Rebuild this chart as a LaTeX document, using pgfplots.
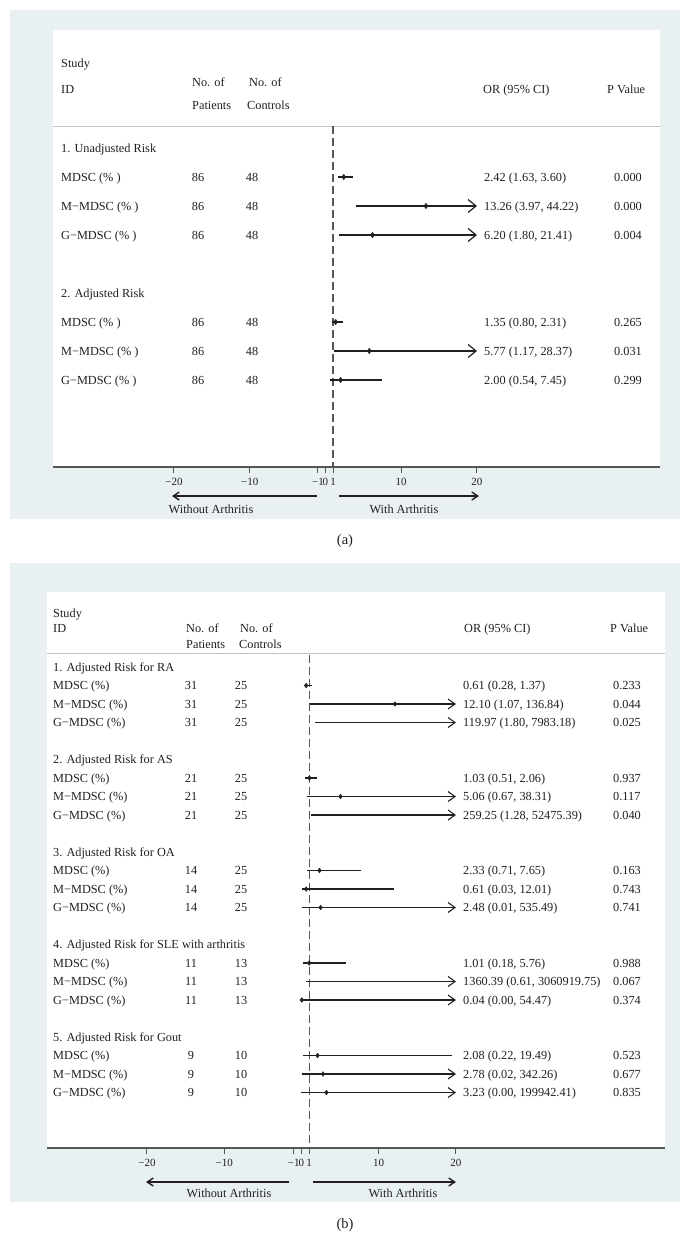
\documentclass[border=0pt]{standalone}
\usepackage{fontspec}
\setmainfont{Liberation Serif}
\usepackage{pgfplots}
\pgfplotsset{compat=1.18}
\usetikzlibrary{arrows.meta}
\definecolor{panelbg}{RGB}{232,240,242}
\definecolor{txt}{RGB}{35,31,32}
\definecolor{axgray}{RGB}{85,85,85}
\definecolor{sepgray}{RGB}{195,195,195}
\newcommand{\fs}{\fontsize{12.3bp}{14bp}\selectfont}
\newcommand{\ticksfont}{\fontsize{11bp}{12bp}\selectfont}
% row of the table: y, label, patients, controls, OR (CI), p  (panel a)
\newcommand{\rowA}[6]{%
  \node[anchor=base west] at (61,#1+4) {#2};
  \node[anchor=base] at (198,#1+4) {#3};
  \node[anchor=base] at (252,#1+4) {#4};
  \node[anchor=base west] at (484,#1+4) {#5};
  \node[anchor=base west] at (614,#1+4) {#6};}
\newcommand{\rowB}[6]{%
  \node[anchor=base west] at (53,#1+4) {#2};
  \node[anchor=base] at (191,#1+4) {#3};
  \node[anchor=base] at (241,#1+4) {#4};
  \node[anchor=base west] at (463,#1+4) {#5};
  \node[anchor=base west] at (613,#1+4) {#6};}
\pgfplotsset{
  forest/.style={
    scale only axis, clip=false,
    axis x line*=bottom, axis y line=none,
    axis line style={axgray, line width=1.5bp},
    xtick={-20,-10,-1,0,1,10,20},
    xticklabels={−20,−10,−1,0,1,10,20},
    tick align=outside, major tick length=6bp,
    tick style={axgray, line width=1bp},
    x tick label style={font=\ticksfont, text=txt, inner sep=0pt, yshift=-5bp},
  },
  ci/.style={txt, line width=1.2bp, mark=none},
  nullline/.style={axgray, line width=1.3bp, dash pattern=on 8bp off 4bp},
  pt/.style={only marks, mark=diamond*, mark size=2.7bp, txt},
}
\begin{document}
\begin{tikzpicture}
\path[use as bounding box] (0bp,0bp) rectangle (690bp,-1257bp);
\fill[white] (0bp,0bp) rectangle (690bp,-1257bp);
\begin{scope}[x=1bp,y=-1bp]
\fill[panelbg] (10,10) rectangle (680,519);
\fill[white] (53,30) rectangle (660,467);
\fill[panelbg] (10,563) rectangle (680,1202);
\fill[white] (47,592) rectangle (665,1148);
\draw[sepgray, line width=1bp] (53,126) -- (660,126);
\draw[sepgray, line width=1bp] (47,653) -- (665,653);
\end{scope}

% ---------------- panel (a)
\begin{axis}[forest,
  at={(53bp,-467bp)}, anchor=south west,
  width=607bp, height=437bp,
  xmin=-35.97, xmax=44.16, ymin=-11, ymax=4.069]
\addplot[nullline] coordinates {(1,0.759) (1,-11)};
\addplot[ci] coordinates {(1.63,-1) (3.60,-1)};
\addplot[ci,-{Straight Barb[length=8bp,width=13bp]}] coordinates {(3.97,-2) (20,-2)};
\addplot[ci,-{Straight Barb[length=8bp,width=13bp]}] coordinates {(1.80,-3) (20,-3)};
\addplot[ci] coordinates {(0.80,-6) (2.31,-6)};
\addplot[ci,-{Straight Barb[length=8bp,width=13bp]}] coordinates {(1.17,-7) (20,-7)};
\addplot[ci] coordinates {(0.54,-8) (7.45,-8)};
\addplot[pt] coordinates {(2.42,-1) (13.26,-2) (6.20,-3) (1.35,-6) (5.77,-7) (2.00,-8)};
\end{axis}

% ---------------- panel (b)
\begin{axis}[forest,
  at={(47bp,-1148bp)}, anchor=south west,
  width=618bp, height=556bp,
  xmin=-32.94, xmax=47.06, ymin=-26, ymax=4.054]
\addplot[nullline] coordinates {(1,0.649) (1,-26)};
\pgfplotsset{ci/.append style={line width=1.1bp}}
% RA
\addplot[ci] coordinates {(0.28,-1) (1.37,-1)};
\addplot[ci,-{Straight Barb[length=7bp,width=10bp]}] coordinates {(1.07,-2) (20,-2)};
\addplot[ci,-{Straight Barb[length=7bp,width=10bp]}] coordinates {(1.80,-3) (20,-3)};
% AS
\addplot[ci] coordinates {(0.51,-6) (2.06,-6)};
\addplot[ci,-{Straight Barb[length=7bp,width=10bp]}] coordinates {(0.67,-7) (20,-7)};
\addplot[ci,-{Straight Barb[length=7bp,width=10bp]}] coordinates {(1.28,-8) (20,-8)};
% OA
\addplot[ci] coordinates {(0.71,-11) (7.65,-11)};
\addplot[ci] coordinates {(0.03,-12) (12.01,-12)};
\addplot[ci,-{Straight Barb[length=7bp,width=10bp]}] coordinates {(0.01,-13) (20,-13)};
% SLE
\addplot[ci] coordinates {(0.18,-16) (5.76,-16)};
\addplot[ci,-{Straight Barb[length=7bp,width=10bp]}] coordinates {(0.61,-17) (20,-17)};
\addplot[ci,-{Straight Barb[length=7bp,width=10bp]}] coordinates {(0.00,-18) (20,-18)};
% Gout
\addplot[ci] coordinates {(0.22,-21) (19.49,-21)};
\addplot[ci,-{Straight Barb[length=7bp,width=10bp]}] coordinates {(0.02,-22) (20,-22)};
\addplot[ci,-{Straight Barb[length=7bp,width=10bp]}] coordinates {(0.00,-23) (20,-23)};
\addplot[pt, mark size=2.4bp] coordinates {(0.61,-1) (12.10,-2) (1.03,-6) (5.06,-7)
  (2.33,-11) (0.61,-12) (2.48,-13) (1.01,-16) (0.04,-18) (2.08,-21) (2.78,-22) (3.23,-23)};
\end{axis}

% ---------------- texts
\begin{scope}[x=1bp,y=-1bp, every node/.style={inner sep=0pt, font=\fs, text=txt}]
% header (a)
\node[anchor=base west] at (61,67) {Study};
\node[anchor=base west] at (61,93) {ID};
\node[anchor=base west] at (192,86) {No. of};
\node[anchor=base west] at (192,109) {Patients};
\node[anchor=base west] at (249,86) {No. of};
\node[anchor=base west] at (247,109) {Controls};
\node[anchor=base west] at (483,93) {OR (95\% CI)};
\node[anchor=base west] at (607,93) {P Value};
\node[anchor=base west] at (61,152) {1. Unadjusted Risk};
\rowA{177}{MDSC (\% )}{86}{48}{2.42 (1.63, 3.60)}{0.000}
\rowA{206}{M−MDSC (\% )}{86}{48}{13.26 (3.97, 44.22)}{0.000}
\rowA{235}{G−MDSC (\% )}{86}{48}{6.20 (1.80, 21.41)}{0.004}
\node[anchor=base west] at (61,297) {2. Adjusted Risk};
\rowA{322}{MDSC (\% )}{86}{48}{1.35 (0.80, 2.31)}{0.265}
\rowA{351}{M−MDSC (\% )}{86}{48}{5.77 (1.17, 28.37)}{0.031}
\rowA{380}{G−MDSC (\% )}{86}{48}{2.00 (0.54, 7.45)}{0.299}
\draw[txt, line width=1.4bp, -{Straight Barb[length=6bp,width=8bp]}] (317,496) -- (172,496);
\draw[txt, line width=1.4bp, -{Straight Barb[length=6bp,width=8bp]}] (339,496) -- (479,496);
\node at (211,509) {Without Arthritis};
\node at (404,509) {With Arthritis};
\node[font=\fontsize{14.5bp}{16bp}\selectfont] at (345,541) {(a)};
% header (b)
\node[anchor=base west] at (53,617) {Study};
\node[anchor=base west] at (53,632) {ID};
\node[anchor=base west] at (186,632) {No. of};
\node[anchor=base west] at (186,648) {Patients};
\node[anchor=base west] at (240,632) {No. of};
\node[anchor=base west] at (239,648) {Controls};
\node[anchor=base west] at (464,632) {OR (95\% CI)};
\node[anchor=base west] at (610,632) {P Value};
\node[anchor=base west] at (53,671) {1. Adjusted Risk for RA};
\rowB{685.5}{MDSC (\%)}{31}{25}{0.61 (0.28, 1.37)}{0.233}
\rowB{704}{M−MDSC (\%)}{31}{25}{12.10 (1.07, 136.84)}{0.044}
\rowB{722.5}{G−MDSC (\%)}{31}{25}{119.97 (1.80, 7983.18)}{0.025}
\node[anchor=base west] at (53,763.5) {2. Adjusted Risk for AS};
\rowB{778}{MDSC (\%)}{21}{25}{1.03 (0.51, 2.06)}{0.937}
\rowB{796.5}{M−MDSC (\%)}{21}{25}{5.06 (0.67, 38.31)}{0.117}
\rowB{815}{G−MDSC (\%)}{21}{25}{259.25 (1.28, 52475.39)}{0.040}
\node[anchor=base west] at (53,856) {3. Adjusted Risk for OA};
\rowB{870.5}{MDSC (\%)}{14}{25}{2.33 (0.71, 7.65)}{0.163}
\rowB{889}{M−MDSC (\%)}{14}{25}{0.61 (0.03, 12.01)}{0.743}
\rowB{907.5}{G−MDSC (\%)}{14}{25}{2.48 (0.01, 535.49)}{0.741}
\node[anchor=base west] at (53,948.5) {4. Adjusted Risk for SLE with arthritis};
\rowB{963}{MDSC (\%)}{11}{13}{1.01 (0.18, 5.76)}{0.988}
\rowB{981.5}{M−MDSC (\%)}{11}{13}{1360.39 (0.61, 3060919.75)}{0.067}
\rowB{1000}{G−MDSC (\%)}{11}{13}{0.04 (0.00, 54.47)}{0.374}
\node[anchor=base west] at (53,1041) {5. Adjusted Risk for Gout};
\rowB{1055.5}{MDSC (\%)}{9}{10}{2.08 (0.22, 19.49)}{0.523}
\rowB{1074}{M−MDSC (\%)}{9}{10}{2.78 (0.02, 342.26)}{0.677}
\rowB{1092.5}{G−MDSC (\%)}{9}{10}{3.23 (0.00, 199942.41)}{0.835}
\draw[txt, line width=1.4bp, -{Straight Barb[length=6bp,width=8bp]}] (289,1182) -- (146,1182);
\draw[txt, line width=1.4bp, -{Straight Barb[length=6bp,width=8bp]}] (313,1182) -- (456,1182);
\node at (229,1193) {Without Arthritis};
\node at (403,1193) {With Arthritis};
\node[font=\fontsize{14.5bp}{16bp}\selectfont] at (345,1225) {(b)};
\end{scope}
\end{tikzpicture}
\end{document}
